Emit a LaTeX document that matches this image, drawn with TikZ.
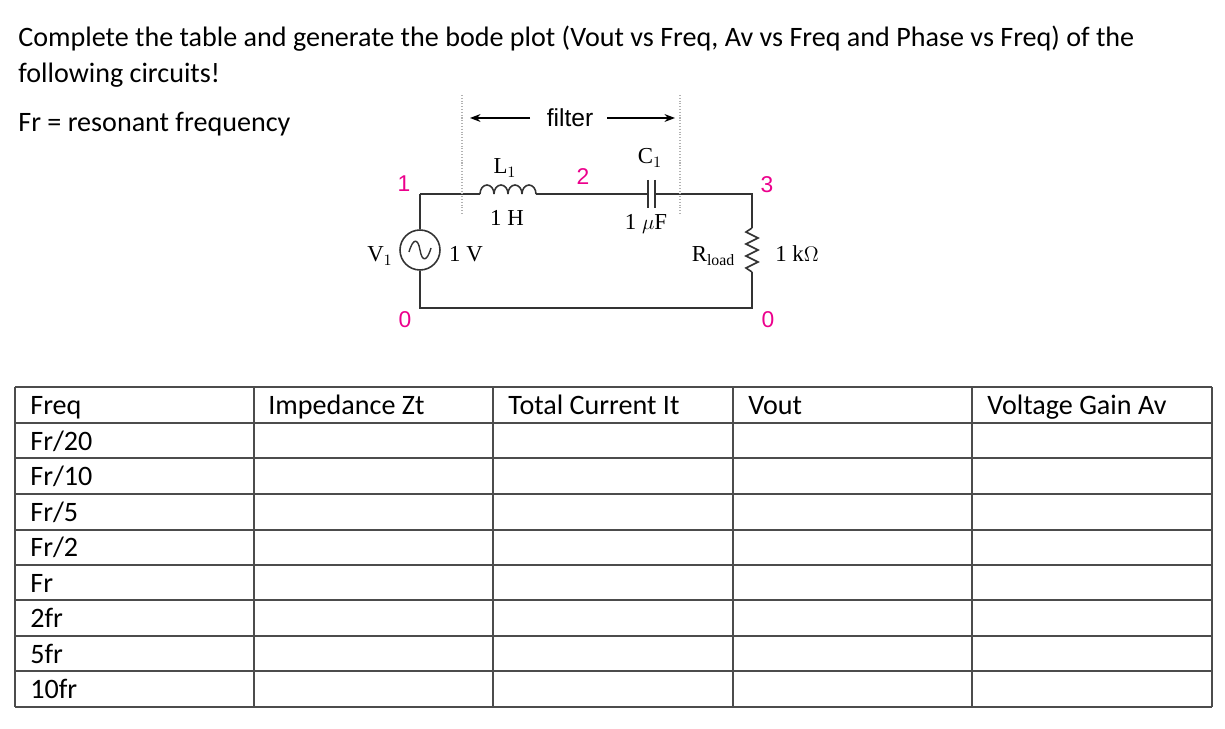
\documentclass[tikz,border=0pt]{standalone}
\usepackage{fontspec}
\setmainfont{Carlito}
\newfontfamily\seriffont{Liberation Serif}
\newfontfamily\arialfont{Liberation Sans}
\usetikzlibrary{arrows.meta, positioning}

\begin{document}
\begin{tikzpicture}[x=0.02cm, y=-0.02cm]

    % Styles
    \tikzset{
        bodytext/.style={anchor=base west, inner sep=0pt, font=\fontsize{16}{19}\selectfont},
        celltext/.style={anchor=base west, inner sep=0pt, font=\fontsize{16}{19}\selectfont},
        nodenum/.style={inner sep=0pt, text=magenta, font=\arialfont\fontsize{13}{15}\selectfont},
        partlabel/.style={inner sep=0pt, font=\seriffont\fontsize{13}{15}\selectfont},
        wire/.style={line width=0.9pt, black!80},
        gridline/.style={line width=0.6pt, black!70},
        fence/.style={densely dotted, gray!60, line width=0.6pt},
        dimarrow/.style={-{Stealth[length=6pt]}, line width=0.7pt}
    }
    \useasboundingbox (0,0) rectangle (1225,729);

    % Heading
    \node[bodytext] (line1) at (18,47) {Complete the table and generate the bode plot (Vout vs Freq, Av vs Freq and Phase vs Freq) of the};
    \node[bodytext] (line2) at (18,83) {following circuits!};
    \node[bodytext] (line3) at (18,132) {Fr = resonant frequency};

    % Circuit corners
    \coordinate (n1) at (420,194);
    \coordinate (n0) at (420,308);
    \coordinate (n3) at (752,194);
    \coordinate (n0r) at (752,308);
    \node[circle, draw, wire, minimum size=0.8cm, inner sep=0pt] (src) at (420,250) {};
    \draw[wire] (n1) -- (src.north);
    \draw[wire] (src.south) -- (n0) -- (n0r) -- (752,272);
    \draw[wire, line width=0.8pt] (409,252) .. controls (413,238) and (418,238) .. (420,250) .. controls (422,262) and (427,262) .. (431,248);

    % Inductor
    \coordinate (lin) at (480,194);
    \coordinate (lout) at (536,194);
    \draw[wire] (n1) -- (lin);
    \foreach \i in {0,1,2,3} {
        \draw[wire] (480+14*\i,194) arc (180:360:7 and 9);
    }
    \draw[wire] (lout) -- (648,194);

    % Capacitor
    \draw[wire] (648,180) -- (648,208);
    \draw[wire] (655,180) -- (655,208);
    \draw[wire] (655,194) -- (n3) -- (752,228);

    % Resistor
    \draw[wire] (752,228) -- (746,232) -- (758,238) -- (746,244) -- (758,250) -- (746,256) -- (758,262) -- (746,268) -- (752,272);

    % Filter fences
    \draw[fence] (462,95) -- (462,215);
    \draw[fence] (680,95) -- (680,215);
    \node[inner sep=0pt, font=\arialfont\fontsize{14}{16}\selectfont] (filt) at (570,118) {filter};
    \draw[dimarrow] (530,118) -- (470,118);
    \draw[dimarrow] (607,118) -- (675,118);

    % Labels
    \node[nodenum] (lab1) at (404,184) {1};
    \node[nodenum] (lab2) at (583,177) {2};
    \node[nodenum] (lab3) at (767,185) {3};
    \node[nodenum] (lab0a) at (405,320) {0};
    \node[nodenum] (lab0b) at (768,320) {0};
    \node[partlabel] (lname) at (505,168) {L$_1$};
    \node[partlabel] (lval) at (507,218) {1 H};
    \node[partlabel] (cname) at (650,158) {C$_1$};
    \node[partlabel] (cval) at (646,224) {1 $\mu$F};
    \node[partlabel] (vname) at (380,256) {V$_1$};
    \node[partlabel] (vval) at (466,254) {1 V};
    \node[partlabel] (rname) at (713,256) {R\raisebox{-0.4ex}{\fontsize{9}{10}\selectfont load}};
    \node[partlabel] (rval) at (797,254) {1 k$\Omega$};

    % Table
    \foreach \y in {387,423,458,494,530,565,600,636,671,707} {
        \draw[gridline] (15,\y) -- (1212,\y);
    }
    \foreach \x in {15,254,493,733,972,1212} {
        \draw[gridline] (\x,387) -- (\x,707);
    }
    \node[celltext] (h1) at (30,415) {Freq};
    \node[celltext] (h2) at (268,415) {Impedance Zt};
    \node[celltext] (h3) at (508,415) {Total Current It};
    \node[celltext] (h4) at (748,415) {Vout};
    \node[celltext] (h5) at (987,415) {Voltage Gain Av};
    \foreach \t [count=\k] in {Fr/20,Fr/10,Fr/5,Fr/2,Fr,2fr,5fr,10fr} {
        \node[celltext] (f\k) at (30,415+35.5*\k) {\t};
    }

\end{tikzpicture}
\end{document}
